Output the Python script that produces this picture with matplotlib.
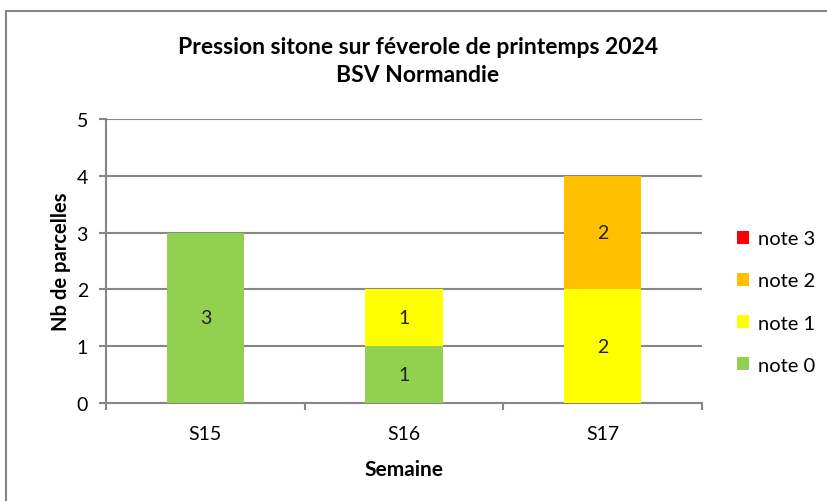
import matplotlib
matplotlib.use("Agg")
import matplotlib.pyplot as plt
from matplotlib.lines import Line2D
from matplotlib.patches import Patch
import numpy as np

plt.rcParams["font.family"] = ["Lato", "DejaVu Sans"]

# données
semaines = ["S15", "S16", "S17"]
notes = ["note 0", "note 1", "note 2", "note 3"]
note0 = [3, 1, 0]
note1 = [0, 1, 2]
note2 = [0, 0, 2]
note3 = [0, 0, 0]
couleurs = ["#92D050", "#FFFF00", "#FFC000", "#FF0000"]
gris = "#868686"

W, H = 828, 502
fig = plt.figure(figsize=(W / 100, H / 100), dpi=100)
ax = fig.add_axes([106 / W, 1 - 404 / H, 596 / W, 284 / H])

x = np.arange(len(semaines))
bas = np.zeros(len(semaines))
for serie, couleur, nom in zip([note0, note1, note2, note3], couleurs, notes):
    vals = np.array(serie, dtype=float)
    ax.bar(x, vals, width=0.39, bottom=bas, color=couleur, label=nom, zorder=3)
    for xi, v, b in zip(x, vals, bas):
        if v > 0:
            ax.text(xi, b + v / 2, f"{int(v)}", ha="center", va="center",
                    fontsize=14, color="#222222", zorder=4)
    bas += vals

ax.set_xlim(-0.5, 2.5)
ax.set_ylim(0, 5)
ax.set_yticks(range(6))
ax.yaxis.grid(True, color=gris, linewidth=1.5, zorder=0)
ax.set_axisbelow(True)

ax.set_xticks(x)
ax.set_xticklabels(semaines)
ax.set_xticks([-0.5, 0.5, 1.5, 2.5], minor=True)
ax.tick_params(axis="x", which="major", length=0, pad=16, labelsize=14)
ax.tick_params(axis="x", which="minor", length=5, color=gris, width=1.5)
ax.tick_params(axis="y", length=5, color=gris, width=1.5, pad=8, labelsize=14)

for s in ["top", "right"]:
    ax.spines[s].set_visible(False)
for s in ["left", "bottom"]:
    ax.spines[s].set_color(gris)
    ax.spines[s].set_linewidth(1.5)

ax.set_ylabel("Nb de parcelles", fontsize=14.5, fontweight="bold")
ax.yaxis.set_label_coords(-0.059, 0.5)
ax.set_xlabel("Semaine", fontsize=15, fontweight="bold", labelpad=12)

fig.text(418 / W, 1 - 47 / H, "Pression sitone sur féverole de printemps 2024",
         ha="center", va="center", fontsize=16.5, fontweight="bold")
fig.text(418 / W, 1 - 76 / H, "BSV Normandie",
         ha="center", va="center", fontsize=16.5, fontweight="bold")

# légende (ordre inversé comme Excel)
handles = [Patch(facecolor=c, label=n) for c, n in zip(couleurs, notes)][::-1]
fig.legend(handles=handles, loc="center left", bbox_to_anchor=(719 / W, 1 - 303 / H),
           frameon=False, fontsize=14.5, handlelength=0.6, handleheight=0.6,
           handletextpad=0.45, labelspacing=1.25)

# cadre du graphique
fig.add_artist(Line2D([6 / W, 6 / W], [0, 1 - 12 / H], color=gris, linewidth=1.5))
fig.add_artist(Line2D([6 / W, 1], [1 - 12 / H, 1 - 12 / H], color=gris, linewidth=1.5))

fig.savefig("out.png", dpi=100)
